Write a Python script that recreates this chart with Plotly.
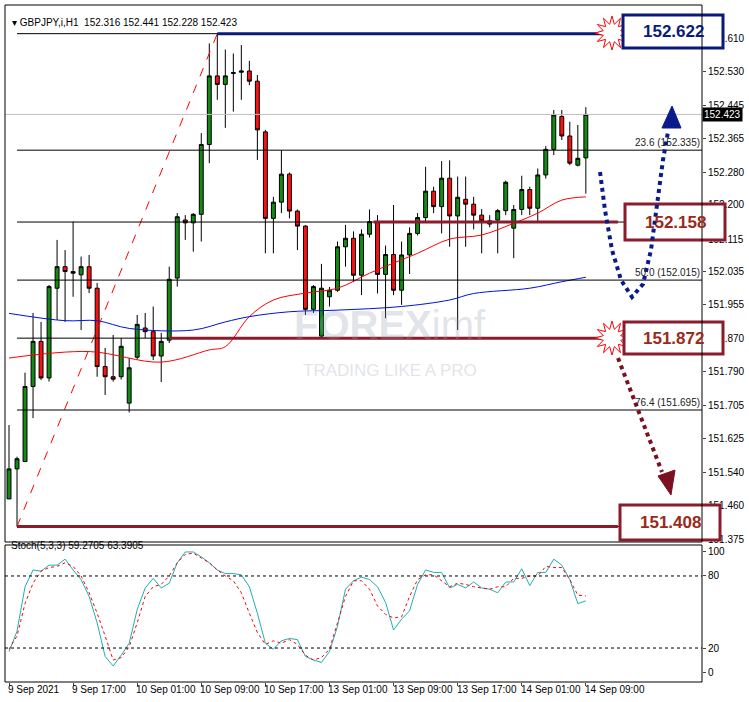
import math
import plotly.graph_objects as go

# H1 candles, GBPJPY, 9 Sep 09:00 .. 14 Sep 09:00
opens = [151.476, 151.550, 151.568, 151.753, 151.864, 151.774, 151.995, 152.048, 152.036, 152.028,
         152.048, 151.995, 151.802, 151.777, 151.777, 151.712, 151.825, 151.897, 151.888, 151.828,
         151.867, 152.020, 152.163, 152.156, 152.177, 152.349, 152.518, 152.497, 152.524, 152.527,
         152.530, 152.505, 152.380, 152.167, 152.207, 152.276, 152.185, 152.148, 151.943, 151.877,
         151.974, 151.990, 152.097, 152.118, 152.027, 152.128, 152.159, 152.029, 152.078, 151.990,
         152.077, 152.130, 152.169, 152.234, 152.196, 152.266, 152.173, 152.214, 152.202, 152.175,
         152.161, 152.163, 152.186, 152.143, 152.189, 152.238, 152.192, 152.274, 152.337, 152.418,
         152.370, 152.298, 152.316]
highs = [151.658, 151.580, 151.787, 151.934, 151.912, 152.003, 152.114, 152.089, 152.159, 152.073,
         152.077, 152.008, 151.848, 151.880, 151.872, 151.823, 151.929, 151.934, 151.950, 151.885,
         152.048, 152.180, 152.175, 152.180, 152.377, 152.598, 152.622, 152.583, 152.573, 152.594,
         152.555, 152.520, 152.385, 152.220, 152.335, 152.280, 152.189, 152.150, 152.003, 152.055,
         151.998, 152.110, 152.151, 152.135, 152.140, 152.189, 152.175, 152.100, 152.200, 152.110,
         152.145, 152.180, 152.294, 152.245, 152.308, 152.310, 152.270, 152.270, 152.220, 152.190,
         152.175, 152.190, 152.260, 152.200, 152.272, 152.245, 152.290, 152.345, 152.434, 152.434,
         152.405, 152.397, 152.441]
lows = [151.476, 151.408, 151.568, 151.675, 151.769, 151.765, 151.917, 151.912, 151.974, 151.892,
        151.983, 151.777, 151.732, 151.765, 151.770, 151.689, 151.820, 151.872, 151.818, 151.764,
        151.860, 151.999, 152.114, 152.085, 152.110, 152.303, 152.459, 152.390, 152.430, 152.459,
        152.495, 152.311, 152.081, 152.081, 152.180, 152.167, 152.089, 151.929, 151.934, 151.872,
        151.950, 151.986, 152.048, 152.010, 151.978, 152.120, 151.982, 151.921, 151.978, 151.954,
        152.030, 152.125, 152.160, 152.180, 152.130, 152.097, 151.892, 152.097, 152.140, 152.081,
        152.145, 152.081, 152.175, 152.069, 152.175, 152.175, 152.160, 152.265, 152.323, 152.360,
        152.298, 152.295, 152.228]
closes = [151.550, 151.575, 151.753, 151.864, 151.774, 151.999, 152.048, 152.036, 152.032, 152.048,
          151.995, 151.802, 151.777, 151.771, 151.852, 151.799, 151.906, 151.888, 151.828, 151.864,
          152.017, 152.171, 152.156, 152.177, 152.349, 152.518, 152.497, 152.518, 152.526, 152.530,
          152.505, 152.385, 152.167, 152.207, 152.276, 152.185, 152.148, 151.943, 151.999, 151.995,
          151.990, 152.097, 152.118, 152.027, 152.128, 152.159, 152.029, 152.078, 151.990, 152.077,
          152.130, 152.169, 152.234, 152.196, 152.266, 152.173, 152.219, 152.202, 152.175, 152.161,
          152.153, 152.186, 152.256, 152.189, 152.238, 152.192, 152.274, 152.337, 152.422, 152.370,
          152.303, 152.315, 152.423]

red_ma_idx = [0, 10, 19, 25, 27, 30, 33, 37, 41, 45, 48, 51, 55, 59, 63, 66, 69, 72]
red_ma_val = [151.823, 151.839, 151.813, 151.843, 151.851, 151.925, 151.966, 151.983, 151.995, 152.032,
              152.057, 152.081, 152.116, 152.126, 152.155, 152.180, 152.212, 152.220]
blue_ma_idx = [0, 7, 11, 15, 23, 27, 30, 35, 41, 49, 55, 58, 65, 69, 72]
blue_ma_val = [151.933, 151.915, 151.915, 151.896, 151.892, 151.912, 151.925, 151.937, 151.941, 151.950,
               151.966, 151.982, 151.995, 152.011, 152.022]

stoch_k = [17, 34, 71, 85, 84, 89, 89, 94, 85, 77, 63, 41, 13, 5, 14, 24, 52, 70, 78, 70,
           74, 91, 100, 100, 96, 91, 85, 82, 82, 81, 71, 49, 24, 19, 26, 28, 27, 13, 10, 8,
           17, 38, 69, 76, 79, 77, 71, 58, 35, 44, 51, 73, 85, 83, 83, 70, 73, 70, 75, 70,
           69, 66, 75, 75, 86, 72, 83, 83, 94, 89, 77, 57, 59.27]
stoch_d = [19, 30, 57, 74, 84, 87, 88, 91, 88, 80, 66, 49, 30, 10, 12, 21, 41, 63, 71, 73,
           80, 91, 98, 99, 95, 91, 85, 80, 76, 66, 49, 33, 23, 26, 24, 27, 23, 14, 10, 12,
           19, 41, 63, 76, 76, 69, 55, 48, 45, 46, 63, 77, 81, 81, 76, 71, 74, 73, 71, 70,
           69, 71, 71, 78, 78, 80, 80, 88, 87, 87, 77, 64, 63.39]

fib_levels = [152.622, 152.335, 152.158, 152.015, 151.872, 151.695, 151.408]
fib_labels = {152.335: "23.6 (152.335)", 152.015: "50.0 (152.015)", 151.695: "76.4 (151.695)"}
price_ticks = [152.610, 152.530, 152.445, 152.365, 152.280, 152.200, 152.115, 152.035, 151.955,
               151.870, 151.790, 151.705, 151.625, 151.540, 151.460, 151.375]
time_labels = ["9 Sep 2021", "9 Sep 17:00", "10 Sep 01:00", "10 Sep 09:00", "10 Sep 17:00",
               "13 Sep 01:00", "13 Sep 09:00", "13 Sep 17:00", "14 Sep 01:00", "14 Sep 09:00"]
# key levels: (price, first bar, colour)
key_lines = [(152.622, 26, "#0a1a7a"), (152.158, 45.5, "#8a1c2c"), (151.872, 20, "#8a1c2c"),
             (151.408, 1, "#8a1c2c")]
last_price = 152.423

W, H = 749, 702
L, R, T, B = 5, 47, 5, 20
PW, PH = W - L - R, H - T - B


def px(x):
    return (x - L) / PW


def py(y):
    return (H - B - y) / PH


n = len(closes)
idx = list(range(n))
fig = go.Figure()

fig.add_trace(go.Candlestick(
    x=idx, open=opens, high=highs, low=lows, close=closes,
    increasing=dict(line=dict(color="black", width=1), fillcolor="#138a13"),
    decreasing=dict(line=dict(color="black", width=1), fillcolor="#ff1010"),
    whiskerwidth=0, showlegend=False, xaxis="x", yaxis="y"))
fig.add_trace(go.Scatter(x=red_ma_idx, y=red_ma_val, mode="lines", line=dict(color="red", width=1, shape="spline"),
                         showlegend=False, xaxis="x", yaxis="y"))
fig.add_trace(go.Scatter(x=blue_ma_idx, y=blue_ma_val, mode="lines", line=dict(color="#0010e0", width=1, shape="spline"),
                         showlegend=False, xaxis="x", yaxis="y"))
# fibo diagonal
fig.add_trace(go.Scatter(x=[1, 26], y=[fib_levels[-1], fib_levels[0]], mode="lines",
                         line=dict(color="red", width=1, dash="dash"), showlegend=False, xaxis="x", yaxis="y"))
fig.add_trace(go.Scatter(x=idx, y=stoch_k, mode="lines", line=dict(color="#20b0b0", width=1),
                         showlegend=False, xaxis="x", yaxis="y2"))
fig.add_trace(go.Scatter(x=idx, y=stoch_d, mode="lines", line=dict(color="red", width=1, dash="dot"),
                         showlegend=False, xaxis="x", yaxis="y2"))

shapes, annos = [], []
for lv in fib_levels:
    shapes.append(dict(type="line", xref="x", yref="y", x0=1, x1=86.5, y0=lv, y1=lv,
                       line=dict(color="black", width=1)))
    if lv in fib_labels:
        annos.append(dict(x=1, xref="paper", y=lv, yref="y", text=fib_labels[lv], showarrow=False,
                          xanchor="right", yanchor="bottom", font=dict(size=10, color="#222")))
shapes.append(dict(type="line", xref="x", yref="y", x0=-0.5, x1=86.5, y0=last_price, y1=last_price,
                   line=dict(color="#c0c0c0", width=1)))
for lv, start, col in key_lines:
    shapes.append(dict(type="line", xref="x", yref="y", x0=start, x1=76, y0=lv, y1=lv,
                       line=dict(color=col, width=3)))
for lv in [80, 20]:
    shapes.append(dict(type="line", xref="x", yref="y2", x0=-0.5, x1=86.5, y0=lv, y1=lv,
                       line=dict(color="black", width=1, dash="dot")))


def star(cx, cy, r1=17, r2=9, k=12):
    pts = []
    for i in range(2 * k):
        r = r1 if i % 2 == 0 else r2
        a = math.pi * i / k
        pts.append((px(cx + r * math.cos(a)), py(cy + r * math.sin(a))))
    return "M " + " L ".join(f"{a:.4f},{b:.4f}" for a, b in pts) + " Z"


for cy in [33, 338]:
    shapes.append(dict(type="path", xref="paper", yref="paper", path=star(612, cy),
                       fillcolor="white", line=dict(color="red", width=1)))

boxes = [(623, 15, 723, 48, "#0a1a7a", "152.622"), (625, 204, 725, 240, "#8a1c2c", "152.158"),
         (624, 322, 723, 354, "#8a1c2c", "151.872"), (620, 505, 720, 540, "#8a1c2c", "151.408")]
for x0, y0, x1, y1, col, txt in boxes:
    shapes.append(dict(type="rect", xref="paper", yref="paper", x0=px(x0), x1=px(x1), y0=py(y1), y1=py(y0),
                       fillcolor="white", line=dict(color=col, width=3), layer="above"))
    tcol = "#0a1a7a" if col == "#0a1a7a" else "#9a2a1a"
    annos.append(dict(x=px((x0 + x1) / 2), y=py((y0 + y1) / 2), xref="paper", yref="paper", text=f"<b>{txt}</b>",
                      xanchor="center", yanchor="middle", showarrow=False,
                      font=dict(size=17, color=tcol, family="Liberation Sans Narrow, Arial")))


def path(pts, close=False):
    s = "M " + " L ".join(f"{px(a):.4f},{py(b):.4f}" for a, b in pts)
    return s + (" Z" if close else "")


curve = [(600, 172), (605, 210), (612, 250), (621, 280), (632, 297), (643, 284), (651, 250),
         (657, 205), (663, 160), (668, 132)]
shapes.append(dict(type="path", xref="paper", yref="paper", path=path(curve),
                   line=dict(color="#0a1a8a", width=4, dash="dot")))
shapes.append(dict(type="path", xref="paper", yref="paper", path=path([(672, 106), (662, 128), (681, 128)], True),
                   fillcolor="#0a1a8a", line=dict(color="#0a1a8a", width=1)))
shapes.append(dict(type="path", xref="paper", yref="paper", path=path([(618, 358), (662, 472)]),
                   line=dict(color="#7a1020", width=4, dash="dot")))
shapes.append(dict(type="path", xref="paper", yref="paper", path=path([(671, 495), (658, 476), (675, 470)], True),
                   fillcolor="#7a1020", line=dict(color="#7a1020", width=1)))
# panel frames
shapes.append(dict(type="rect", xref="paper", yref="paper", x0=0, x1=1, y0=py(542), y1=1,
                   line=dict(color="black", width=1)))
shapes.append(dict(type="rect", xref="paper", yref="paper", x0=0, x1=1, y0=0, y1=py(545),
                   line=dict(color="black", width=1)))

annos.append(dict(x=px(10), y=py(15), xref="paper", yref="paper", xanchor="left",
                  text="▾ GBPJPY,i,H1  152.316 152.441 152.228 152.423", showarrow=False,
                  font=dict(size=10, color="black")))
annos.append(dict(x=px(9), y=py(553), xref="paper", yref="paper", xanchor="left",
                  text="Stoch(5,3,3) 59.2705 63.3905", showarrow=False, font=dict(size=10, color="black")))
annos.append(dict(x=1, y=last_price, xref="paper", yref="y", xanchor="left", text="152.423", showarrow=False,
                  bgcolor="black", font=dict(size=10, color="white"), borderpad=1))
annos.append(dict(x=px(390), y=py(325), xref="paper", yref="paper", text="<b>FOREX</b>imf", showarrow=False,
                  xanchor="center", font=dict(size=40, color="rgba(150,160,175,0.3)")))
annos.append(dict(x=px(390), y=py(370), xref="paper", yref="paper", text="TRADING LIKE A PRO", showarrow=False,
                  xanchor="center", font=dict(size=17, color="rgba(150,160,175,0.3)")))
for i, t in enumerate(time_labels):
    annos.append(dict(x=i * 8, xref="x", y=py(682), yref="paper", yanchor="top", xanchor="left", text=t,
                      showarrow=False, font=dict(size=10, color="black"), xshift=-3))

fig.update_layout(
    width=W, height=H, margin=dict(l=L, r=R, t=T, b=B, autoexpand=False),
    paper_bgcolor="white", plot_bgcolor="white",
    font=dict(family="Liberation Sans, Arial", size=10, color="black"),
    xaxis=dict(range=[-0.5, 86.5], showgrid=False, zeroline=False, showticklabels=False, automargin=False,
               rangeslider=dict(visible=False), anchor="y2",
               tickvals=[i * 8 for i in range(len(time_labels))], ticks="outside", ticklen=3),
    yaxis=dict(domain=[py(542), 1], range=[151.3699, 152.6926], side="right", showgrid=False, zeroline=False,
               tickvals=price_ticks, ticktext=[f"{v:.3f}" for v in price_ticks], ticks="outside", ticklen=3,
               tickfont=dict(size=10), automargin=False),
    yaxis2=dict(domain=[0, py(545)], range=[-8.3, 105.8], side="right", showgrid=False, zeroline=False,
                tickvals=[100, 80, 20, 0], ticks="outside", ticklen=3, tickfont=dict(size=10), automargin=False),
    shapes=shapes, annotations=annos,
)

fig.write_html("out.html", config={"displayModeBar": False},
               post_script="document.body.style.margin='0';")
